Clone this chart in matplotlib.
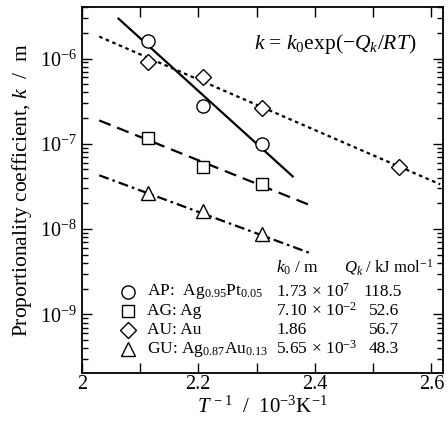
import numpy as np
import matplotlib
matplotlib.use("Agg")
import matplotlib.pyplot as plt
from matplotlib.ticker import MultipleLocator, LogLocator, NullFormatter, FuncFormatter, FixedLocator

plt.rcParams['font.family'] = ['Liberation Serif', 'DejaVu Serif']
plt.rcParams['mathtext.fontset'] = 'custom'
plt.rcParams['mathtext.rm'] = 'Liberation Serif'
plt.rcParams['mathtext.it'] = 'Liberation Serif:italic'
plt.rcParams['mathtext.bf'] = 'Liberation Serif:bold'
plt.rcParams['mathtext.fallback'] = 'stix'

R = 8.314e-3  # kJ/mol/K

# ---- data ----
series_names = ["AP", "AG", "AU", "GU"]
series_labels = [r"AP:  Ag$_{0.95}$Pt$_{0.05}$", "AG: Ag", "AU: Au",
                 r"GU: Ag$_{0.87}$Au$_{0.13}$"]
k0_text = [r"1.73$\,\times\,$10$^{7}$", r"7.10$\,\times\,$10$^{-2}$", "1.86",
           r"5.65$\,\times\,$10$^{-3}$"]
Q_text = ["118.5", "52.6", "56.7", "48.3"]
k0_vals = [1.73e7, 7.10e-2, 1.86, 5.65e-3]
Q_vals = [118.5, 52.6, 56.7, 48.3]

ap_x = [2.114, 2.208, 2.309]
ap_y = [1.6e-6, 2.8e-7, 1.0e-7]
ag_x = [2.114, 2.208, 2.309]
ag_y = [1.17e-7, 5.3e-8, 3.4e-8]
au_x = [2.114, 2.208, 2.309, 2.545]
au_y = [9.2e-7, 6.0e-7, 2.65e-7, 5.4e-8]
gu_x = [2.114, 2.208, 2.309]
gu_y = [2.68e-8, 1.62e-8, 8.7e-9]

y_ticks = [1e-9, 1e-8, 1e-7, 1e-6]
x_ticks = [2.0, 2.2, 2.4, 2.6]

# fit-line x ranges (1/T, 10^-3 K^-1)
fit_ranges = [(2.063, 2.362), (2.030, 2.393), (2.030, 2.615), (2.030, 2.396)]

xs_list = [ap_x, ag_x, au_x, gu_x]
ys_list = [ap_y, ag_y, au_y, gu_y]
markers = ['o', 's', 'D', '^']
msizes = [9.5, 9, 8, 10]
lstyles = ['-', (0, (5.5, 3.2)), (0, (1.6, 1.6)), (0, (4.5, 1.8, 1.2, 1.8))]

fig = plt.figure(figsize=(4.48, 4.22), dpi=100)
ax = fig.add_axes([0.1825, 0.117, 0.8065, 0.866])

for i in range(4):
    xa, xb = fit_ranges[i]
    xl = np.linspace(xa, xb, 50)
    yl = k0_vals[i] * np.exp(-Q_vals[i] * xl * 1e-3 / R)
    ax.plot(xl, yl, color='black', lw=1.6, ls=lstyles[i], zorder=2)
    ax.plot(xs_list[i], ys_list[i], ls='none', marker=markers[i], ms=msizes[i],
            mfc='white', mec='black', mew=1.0, zorder=3)

ax.set_yscale('log')
ax.set_xlim(2.0, 2.62)
ax.set_ylim(2.07e-10, 4.0e-6)

ax.xaxis.set_major_locator(FixedLocator(x_ticks))
ax.xaxis.set_minor_locator(FixedLocator([2.1, 2.3, 2.5]))
ax.xaxis.set_major_formatter(FuncFormatter(lambda v, p: f"{v:g}"))
ax.yaxis.set_major_locator(FixedLocator(y_ticks))
ax.yaxis.set_minor_locator(LogLocator(base=10, subs=np.arange(2, 10), numticks=20))
ax.yaxis.set_minor_formatter(NullFormatter())

ax.tick_params(which='both', direction='in', top=True, right=True, labelsize=14.5, width=1.0)
ax.tick_params(axis='x', which='both', length=7)
ax.tick_params(axis='y', which='major', length=7)
ax.tick_params(axis='y', which='minor', length=4)
ax.tick_params(axis='x', pad=2)
for s in ax.spines.values():
    s.set_linewidth(1.3)

ax.set_ylabel(r"Proportionality coefficient, $k$  /  m", fontsize=15.5, labelpad=4)
ax.set_xlabel(r"$T^{\,-1}$  /  10$^{-3}$K$^{-1}$", fontsize=15, labelpad=1.5)

ax.text(0.70, 0.90, r"$k$ = $k_0$exp($-Q_k$/$RT$)", transform=ax.transAxes,
        fontsize=15.5, ha='center', va='center')

# legend table
row_y = [0.2215, 0.1695, 0.1168, 0.064]
fs = 12.5
ax.text(0.538, 0.288, r"$k_0$ / m", transform=ax.transAxes, fontsize=fs, va='center')
ax.text(0.726, 0.288, r"$Q_k$ / kJ mol$^{-1}$", transform=ax.transAxes, fontsize=12, va='center')
q_x = [0.779, 0.795, 0.795, 0.795]
for i in range(4):
    ax.plot([0.128], [row_y[i]], transform=ax.transAxes, marker=markers[i], ms=msizes[i],
            mfc='white', mec='black', mew=1.0, ls='none', clip_on=False)
    ax.text(0.180, row_y[i], series_labels[i], transform=ax.transAxes, fontsize=fs, va='center')
    ax.text(0.538, row_y[i], k0_text[i], transform=ax.transAxes, fontsize=fs, va='center')
    ax.text(q_x[i], row_y[i], Q_text[i], transform=ax.transAxes, fontsize=fs, va='center')

fig.savefig("out.png", dpi=100)
